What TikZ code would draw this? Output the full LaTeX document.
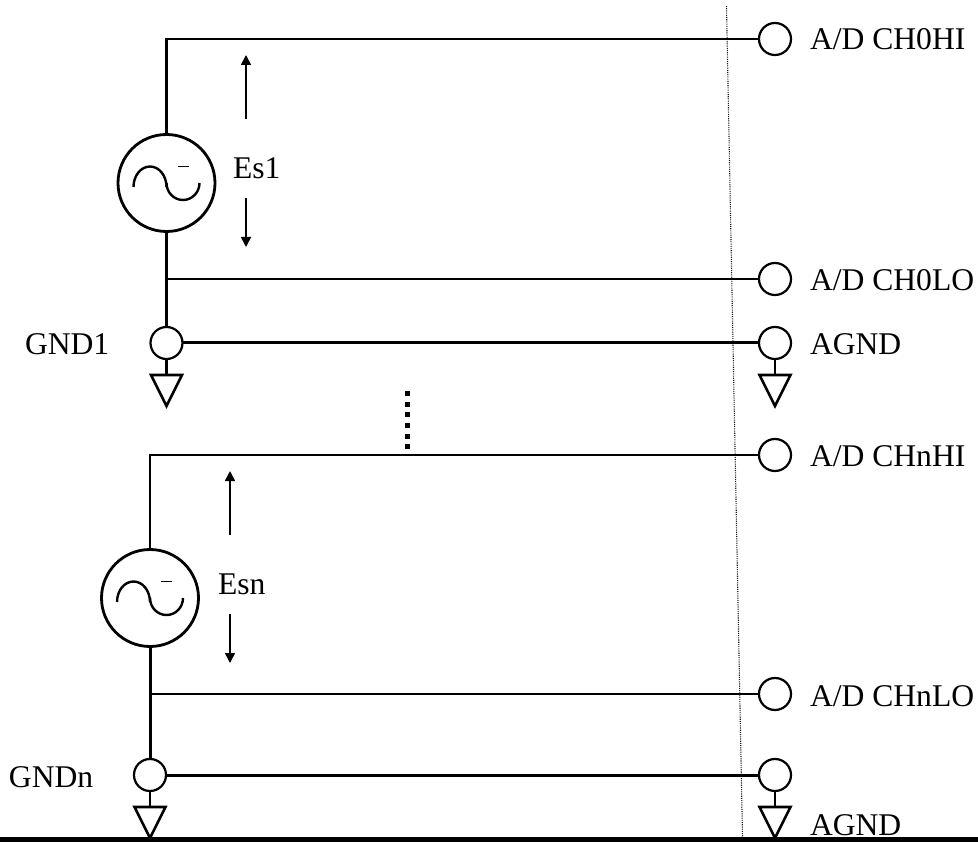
\documentclass[tikz,border=0pt]{standalone}
\usepackage{fontspec}
\setmainfont{Liberation Serif}
\usetikzlibrary{shapes.geometric,arrows.meta}
\tikzset{
  x=1pt,y=-1pt,
  wire/.style={line width=2.6pt,line join=miter},
  gndwire/.style={line width=3pt},
  thinwire/.style={line width=2.1pt},
  term/.style={circle,draw,line width=2.2pt,fill=white,minimum size=32pt,inner sep=0pt,outer sep=0pt},
  src/.style={circle,draw,line width=2.8pt,minimum size=97pt,inner sep=0pt,outer sep=0pt},
  gtri/.style={isosceles triangle,draw,line width=2.6pt,shape border rotate=-90,isosceles triangle apex angle=53.13,isosceles triangle stretches,minimum width=31pt,minimum height=31pt,inner sep=0pt,outer sep=0pt,anchor=apex},
  lab/.style={anchor=base west,inner sep=0pt,outer sep=0pt,font=\fontsize{31.6}{35}\selectfont},
  volt/.style={line width=1.6pt,-{Triangle[length=10pt,width=10pt]}},
  sine/.style={line width=2.4pt},
  sep/.style={line width=1.1pt,dash pattern=on 1.1pt off 1.1pt,black!90},
  dots/.style={line width=5pt,dash pattern=on 5pt off 5.67pt},
}
\newcommand{\sinewave}[1]{%
  \draw[sine] ([shift={(-33,4)}]#1.center) arc[start angle=180,end angle=360,x radius=16.5,y radius=20.5];
  \draw[sine] ([shift={(0,0)}]#1.center) arc[start angle=180,end angle=0,x radius=16.5,y radius=17];
  \draw[line width=0.9pt] ([shift={(11,-17)}]#1.center) -- ([shift={(22,-17)}]#1.center);
}
\begin{document}
\begin{tikzpicture}
\useasboundingbox (0,0) rectangle (978,842);
% separator
\coordinate (septop) at (726.5,6);
\coordinate (sepbot) at (742.5,837);
\draw[sep] (septop) -- (sepbot);
% terminals
\node[term] (t1) at (775,39) {};
\node[term] (t2) at (775,279) {};
\node[term] (t3) at (775,343) {};
\node[term] (t4) at (775,455) {};
\node[term] (t5) at (775,694) {};
\node[term] (t6) at (775,775) {};
\node[term] (g1) at (166.5,343) {};
\node[term] (g2) at (150,775) {};
% sources
\node[src] (s1) at (166.5,183) {};
\node[src] (s2) at (150,598) {};
\sinewave{s1}
\sinewave{s2}
% junctions
\coordinate (j1) at (166.5,279);
\coordinate (j2) at (150,694);
% wires
\draw[wire] (s1.north) |- (t1.west);
\draw[gndwire] (s1.south) -- (g1.north);
\draw[thinwire] (j1) -- (t2.west);
\draw[gndwire] (g1.east) -- (t3.west);
\draw[wire] (s2.north) |- (t4.west);
\draw[gndwire] (s2.south) -- (g2.north);
\draw[thinwire] (j2) -- (t5.west);
\draw[gndwire] (g2.east) -- (t6.west);
% ground symbols
\node[gtri] (a1) at (166.5,406) {};
\node[gtri] (a2) at (775,406) {};
\node[gtri] (a3) at (150,838) {};
\node[gtri] (a4) at (775,838) {};
\draw[wire] (g1.south) -- (a1.lower side);
\draw[wire] (t3.south) -- (a2.lower side);
\draw[wire] (g2.south) -- (a3.lower side);
\draw[wire] (t6.south) -- (a4.lower side);
% voltage arrows
\coordinate (u1s) at (246,119); \coordinate (u1e) at (246,55);
\coordinate (d1s) at (246,198); \coordinate (d1e) at (246,247);
\coordinate (u2s) at (230,535); \coordinate (u2e) at (230,471);
\coordinate (d2s) at (230,614); \coordinate (d2e) at (230,663);
\draw[volt] (u1s) -- (u1e);
\draw[volt] (d1s) -- (d1e);
\draw[volt] (u2s) -- (u2e);
\draw[volt] (d2s) -- (d2e);
% ellipsis
\coordinate (e1) at (407,391);
\coordinate (e2) at (407,450);
\draw[dots] (e1) -- (e2);
% labels
\node[lab] (l1) at (810,50) {A/D CH0HI};
\node[lab] (l2) at (810,291) {A/D CH0LO};
\node[lab] (l3) at (810,355) {AGND};
\node[lab] (l4) at (810,467) {A/D CHnHI};
\node[lab] (l5) at (810,706) {A/D CHnLO};
\node[lab] (l6) at (810,835) {AGND};
\node[lab] (l7) at (25,355) {GND1};
\node[lab] (l8) at (9,787) {GNDn};
\node[lab] (l9) at (233,179) {Es1};
\node[lab] (l10) at (218,594) {Esn};
% bottom bar
\fill[black] (0,837) rectangle (978,842);
\end{tikzpicture}
\end{document}
